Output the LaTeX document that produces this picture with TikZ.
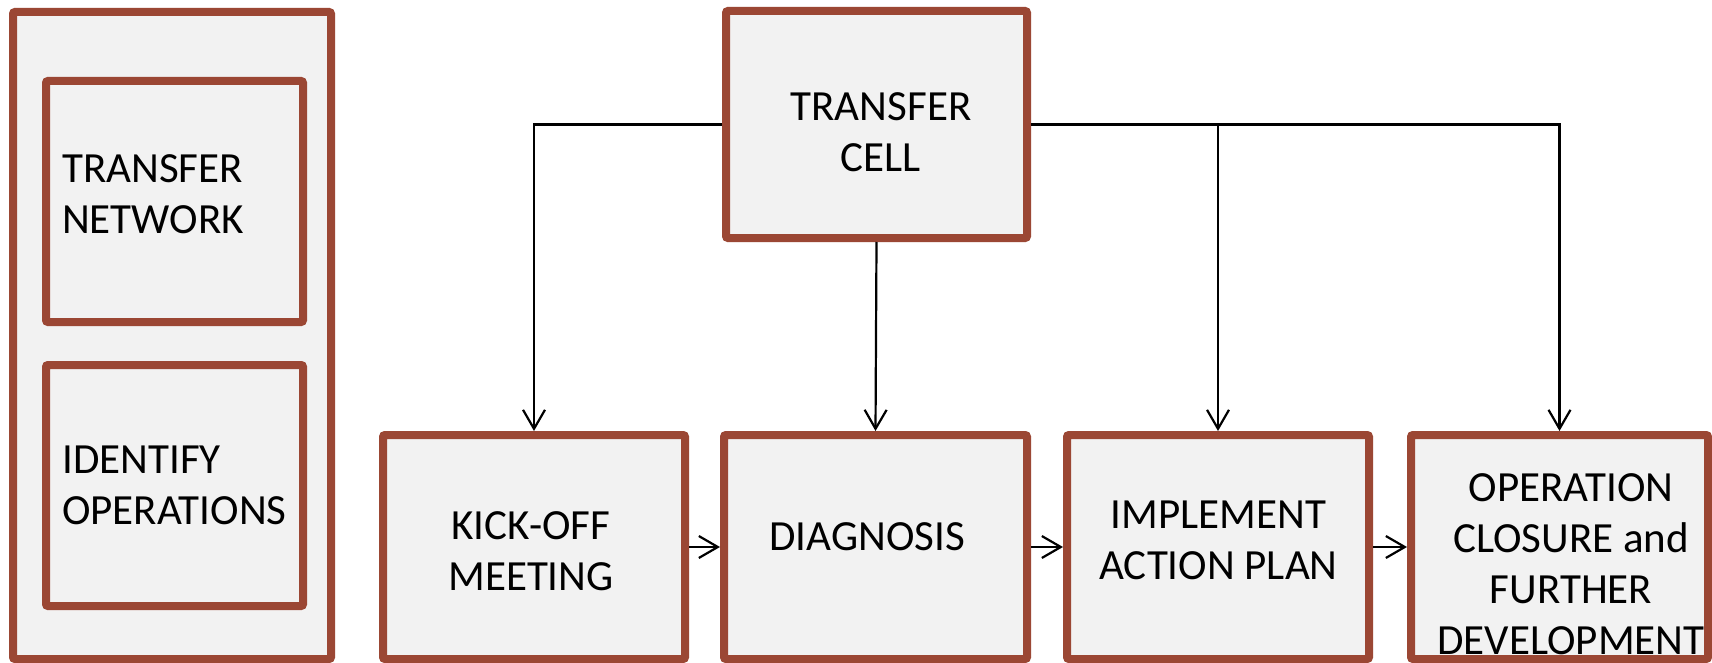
\documentclass[tikz,border=0pt]{standalone}
\usepackage{fontspec}
\setmainfont{Carlito}
\usetikzlibrary{arrows.meta}
\definecolor{boxborder}{RGB}{155,71,52}
\definecolor{boxfill}{RGB}{242,242,242}
\tikzset{
  stagebox/.style={draw=boxborder, fill=boxfill, line width=8pt, rounded corners=2pt,
    rectangle, inner sep=0pt},
  boxtext/.style={inner sep=0pt, font=\fontsize{43}{51}\selectfont, text=black},
  conn/.style={draw=black, line width=2.2pt, -{Straight Barb[length=19pt,width=22pt,line width=2.2pt]}}
}
\begin{document}
\begin{tikzpicture}[x=1pt,y=-1pt]
\useasboundingbox[fill=white] (0,0) rectangle (1712,663);
% left panel
\node[stagebox, minimum width=318pt, minimum height=647pt] (outer) at (172,335.5) {};
\node[stagebox, minimum width=257pt, minimum height=241pt] (net) at (174.5,201.5) {};
\node[stagebox, minimum width=257pt, minimum height=241pt] (ident) at (174.5,485.5) {};
\node[boxtext, align=left, anchor=west] (nettext) at (62,194) {TRANSFER\\NETWORK};
\node[boxtext, align=left, anchor=west] (identtext) at (62,485) {IDENTIFY\\OPERATIONS};
% transfer cell
\node[stagebox, minimum width=301pt, minimum height=227pt] (cell) at (876.5,124.5) {};
\node[boxtext, align=center] (celltext) at (881,132) {TRANSFER\\CELL};
% stages
\node[stagebox, minimum width=302pt, minimum height=224pt] (kick) at (534,547) {};
\node[stagebox, minimum width=303pt, minimum height=224pt] (diag) at (875.5,547) {};
\node[stagebox, minimum width=302pt, minimum height=224pt] (impl) at (1218,547) {};
\node[stagebox, minimum width=297pt, minimum height=224pt] (oper) at (1559.5,547) {};
\node[boxtext, align=center] (kicktext) at (531,551.5) {KICK-OFF\\MEETING};
\node[boxtext, align=center] (diagtext) at (867,536.5) {DIAGNOSIS};
\node[boxtext, align=center] (impltext) at (1218.5,540) {IMPLEMENT\\ACTION PLAN};
\node[boxtext, align=center] (opertext) at (1571,564) {OPERATION\\CLOSURE and\\FURTHER\\DEVELOPMENT};
% connectors
\draw[conn] (cell.west) -| (kick.north);
\draw[conn] (cell.south) -- (diag.north);
\draw[conn] (cell.east) -| (impl.north);
\draw[conn] (cell.east) -| (oper.north);
\draw[conn] (kick.east) -- (diag.west);
\draw[conn] (diag.east) -- (impl.west);
\draw[conn] (impl.east) -- (oper.west);
\end{tikzpicture}
\end{document}
